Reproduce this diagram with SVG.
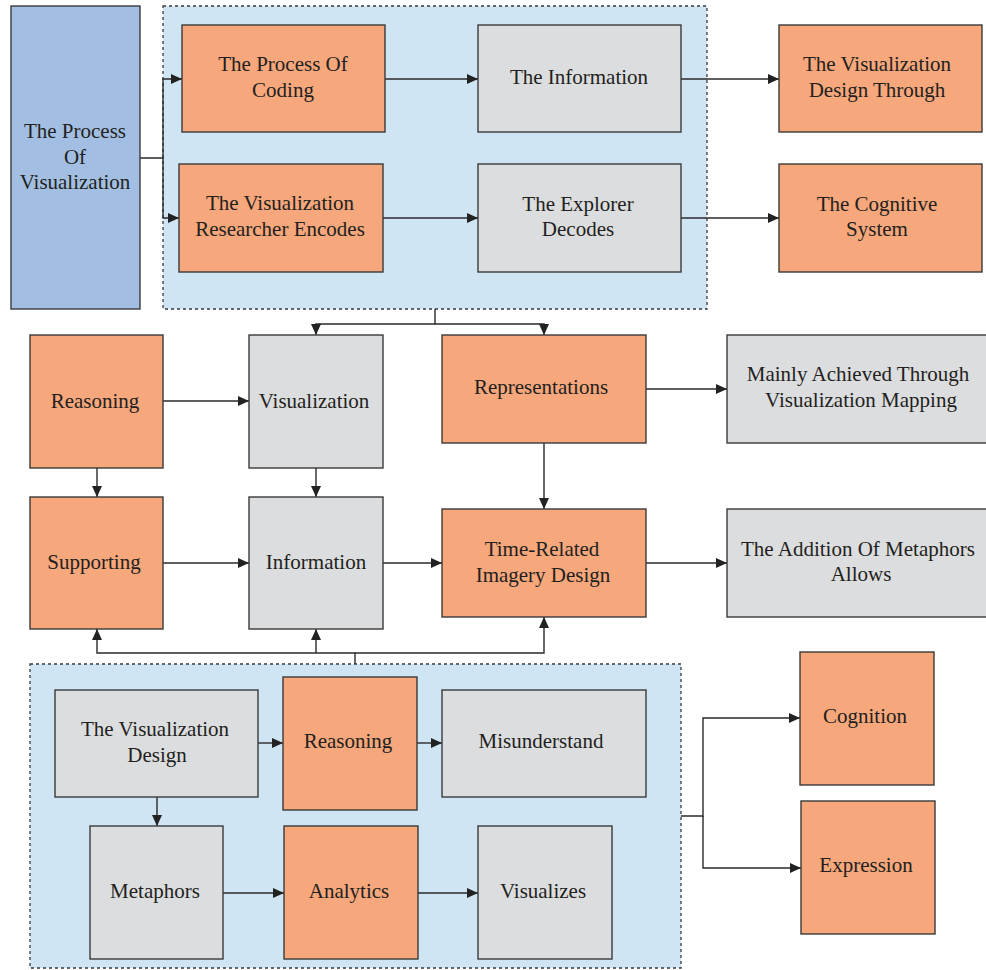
<svg xmlns="http://www.w3.org/2000/svg" width="986" height="970" viewBox="0 0 986 970">
<style>
.box{stroke:#3a3a3a;stroke-width:1.4}
.or{fill:#F6A77B}
.gr{fill:#DCDDDF}
.bl{fill:#A2BFE3}
.cont{fill:#CFE5F3;stroke:#3a3a3a;stroke-width:1.3;stroke-dasharray:3,3}
text{font-family:"Liberation Serif","Times New Roman",serif;font-size:21px;fill:#231F20;text-anchor:middle}
.c{fill:none;stroke:#2a2a2a;stroke-width:1.4}
.a{marker-end:url(#arr)}
</style>
<defs>
<marker id="arr" markerUnits="userSpaceOnUse" markerWidth="11" markerHeight="10" refX="11" refY="5" orient="auto">
<path d="M0,0 L11,5 L0,10 z" fill="#222"/>
</marker>
</defs>
<rect id="topContainer" class="cont" x="163" y="6" width="544" height="303"/>
<rect id="bottomContainer" class="cont" x="30" y="664" width="651" height="304"/>
<g id="connectors">
<path class="c a" d="M140,158 H163 V79 H182"/>
<path class="c a" d="M163,158 V218 H179"/>
<path class="c a" d="M385,79 H478"/>
<path class="c a" d="M681,79 H779"/>
<path class="c a" d="M383,218 H478"/>
<path class="c a" d="M681,218 H779"/>
<path class="c a" d="M435,309 V324 H316 V335"/>
<path class="c a" d="M435,324 H544 V335"/>
<path class="c a" d="M163,401 H249"/>
<path class="c a" d="M646,389 H727"/>
<path class="c a" d="M97,468 V497"/>
<path class="c a" d="M316,468 V497"/>
<path class="c a" d="M544,443 V509"/>
<path class="c a" d="M163,563 H249"/>
<path class="c a" d="M383,563 H442"/>
<path class="c a" d="M646,563 H727"/>
<path class="c a" d="M355,664 V653 H97 V629"/>
<path class="c a" d="M316,653 V629"/>
<path class="c a" d="M355,653 H544 V617"/>
<path class="c a" d="M258,743 H283"/>
<path class="c a" d="M417,743 H442"/>
<path class="c a" d="M157,797 V826"/>
<path class="c a" d="M223,893 H284"/>
<path class="c a" d="M418,893 H478"/>
<path class="c a" d="M681,816 H703 V718 H800"/>
<path class="c a" d="M703,816 V868 H801"/>
</g>
<g id="processVisualization"><rect class="box bl" x="11" y="6" width="129" height="303"/><text x="75" y="138">The Process</text><text x="75" y="164">Of</text><text x="75" y="189">Visualization</text></g>
<g id="processCoding"><rect class="box or" x="182" y="25" width="203" height="107"/><text x="283" y="71">The Process Of</text><text x="283" y="97">Coding</text></g>
<g id="researcherEncodes"><rect class="box or" x="179" y="164" width="204" height="108"/><text x="280" y="210">The Visualization</text><text x="280" y="236">Researcher Encodes</text></g>
<g id="theInformation"><rect class="box gr" x="478" y="25" width="203" height="107"/><text x="579" y="84">The Information</text></g>
<g id="explorerDecodes"><rect class="box gr" x="478" y="164" width="203" height="108"/><text x="578" y="211">The Explorer</text><text x="578" y="236">Decodes</text></g>
<g id="designThrough"><rect class="box or" x="779" y="25" width="203" height="107"/><text x="877" y="71">The Visualization</text><text x="877" y="97">Design Through</text></g>
<g id="cognitiveSystem"><rect class="box or" x="779" y="164" width="203" height="108"/><text x="877" y="211">The Cognitive</text><text x="877" y="236">System</text></g>
<g id="reasoning1"><rect class="box or" x="30" y="335" width="133" height="133"/><text x="95" y="408">Reasoning</text></g>
<g id="visualization"><rect class="box gr" x="249" y="335" width="134" height="133"/><text x="314" y="408">Visualization</text></g>
<g id="representations"><rect class="box or" x="442" y="335" width="204" height="108"/><text x="541" y="394">Representations</text></g>
<g id="mainlyAchieved"><rect class="box gr" x="727" y="335" width="262" height="108"/><text x="858" y="381">Mainly Achieved Through</text><text x="861" y="407">Visualization Mapping</text></g>
<g id="supporting"><rect class="box or" x="30" y="497" width="133" height="132"/><text x="94" y="569">Supporting</text></g>
<g id="information"><rect class="box gr" x="249" y="497" width="134" height="132"/><text x="316" y="569">Information</text></g>
<g id="timeRelated"><rect class="box or" x="442" y="509" width="204" height="108"/><text x="542" y="556">Time-Related</text><text x="543" y="582">Imagery Design</text></g>
<g id="additionMetaphors"><rect class="box gr" x="727" y="509" width="262" height="108"/><text x="858" y="556">The Addition Of Metaphors</text><text x="861" y="581">Allows</text></g>
<g id="visualizationDesign"><rect class="box gr" x="55" y="690" width="203" height="107"/><text x="155" y="736">The Visualization</text><text x="157" y="762">Design</text></g>
<g id="reasoning2"><rect class="box or" x="283" y="677" width="134" height="133"/><text x="348" y="748">Reasoning</text></g>
<g id="misunderstand"><rect class="box gr" x="442" y="690" width="204" height="107"/><text x="541" y="748">Misunderstand</text></g>
<g id="metaphors"><rect class="box gr" x="90" y="826" width="133" height="133"/><text x="155" y="898">Metaphors</text></g>
<g id="analytics"><rect class="box or" x="284" y="826" width="134" height="133"/><text x="349" y="898">Analytics</text></g>
<g id="visualizes"><rect class="box gr" x="478" y="826" width="134" height="133"/><text x="543" y="898">Visualizes</text></g>
<g id="cognition"><rect class="box or" x="800" y="652" width="134" height="133"/><text x="865" y="723">Cognition</text></g>
<g id="expression"><rect class="box or" x="801" y="801" width="134" height="133"/><text x="866" y="872">Expression</text></g>
</svg>
